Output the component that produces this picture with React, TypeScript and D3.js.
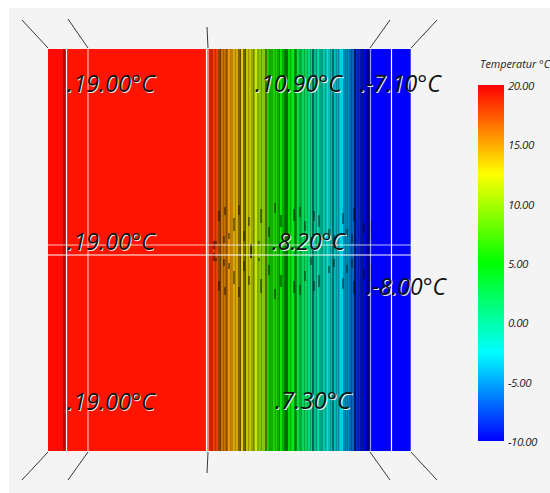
import React from "react";
import * as d3 from "d3";

const W = 550, H = 493;
const bandDepth = [0,15,18,159,162,165,170,173,177,180,183,185,190,193,195,198,203,207,209,211,217,219,222,225,229,232,234,237,240,244,246,249,251,254,259,260,264,266,269,272,275,279,280,284,286,292,295,301,306,308,312,316,319];
const bandTemp = [19.7,19.7,19.4,19.4,18.7,17.7,16.25,15.8,15.6,15.2,14.9,14.1,13.75,13.5,13.2,12.7,11.6,11.5,10.7,9.9,8.75,6.5,5.9,6,5.4,5.3,5,5,4.7,4,3.5,3,2.4,1.9,1,0.5,-1,-0.5,-0.9,-1.1,-1.4,-2,-2.1,-2.5,-2.9,-3.2,-4.5,-6,-8.5,-8.6,-9.1,-10,-10];
const bandShade = [1,0.72,1,1,0.8,0.88,0.55,0.8,0.67,0.92,0.75,0.84,0.47,0.9,0.43,0.78,0.67,0.9,0.67,0.78,0.47,0.78,0.67,0.82,0.67,0.9,0.67,0.43,0.86,0.9,0.59,0.86,0.67,0.84,0.67,0.84,0.4,0.75,0.84,0.63,0.78,0.88,0.75,0.43,0.75,0.9,0.75,0.75,0.4,0.82,0.67,0.9,0.5];
const depthEnd = 363;
const heightEnd = 402;
const bandBlue = [{ from: 322, to: 363, temp: -10 }];

const contourDepth = [167,172,175,178,182,187,192,197,200,205,213,221,227,231,236,242,247,256,262,268,271,277,282,288,290,297,299,303,310,314,318];
const dashDepth = [170,185,212,195,180,175,167,210,265,294,305,280,303,322,165,202,190,220,232,245,256,270,285,298,176,200,226,251,262,315];
const dashNear = [30,20,28,10,12,8,7,7,30,27,30,15,8,12,2,-7,36,14,24,30,20,24,8,14,36,25,38,34,6,18];
const dashFar = [40,33,42,20,18,15,10,10,40,38,43,22,17,30,10,7,46,24,36,42,30,36,16,22,44,34,48,44,14,28];

const whiteLinesV = [18.5,40,158.5,160,322.5,343.5,363];
const whiteOpacityV = [1,0.7,1,0.7,0.6,1,0.5];
const whiteLinesH = [196,206];
const whiteOpacityH = [0.75,1];

const axisTicks = [20,15,10,5,0,-5,-10];
const gradTemps = [20,12.5,5,-2.5,-10];
const gradColors = ["#ff0000","#ffff00","#00ff00","#00ffff","#0000ff"];
const legendTitle = "Temperatur °C";

const labels = [".19.00°C",".10.90°C",".-7.10°C",".19.00°C",".8.20°C",".-8.00°C",".19.00°C",".7.30°C"];
const labelDepth = [19,207,312,19,224,318,19,227];
const labelHeight = [43,43,43,201,201,246,361,360];
const labelLen = [88,87,81,88,73,80,88,76];

const cornerDepth = [0,40,160,322,363];
const cornerOutTop = [-26,-20,-1,20,26];
const cornerTopLen = [29,30,22,29,29];
const cornerBotLen = [29,29,22,29,29];

const color = d3.scaleLinear<string>().domain(gradTemps).range(gradColors).interpolate(d3.interpolateRgb);

export default function App() {
  const x = d3.scaleLinear().domain([0, depthEnd]).range([48, 411]);
  const y = d3.scaleLinear().domain([0, heightEnd]).range([49, 451]);
  const bar = d3.scaleLinear().domain([-10, 20]).range([441, 85]);
  const mid = y(heightEnd / 2) + 0.5;
  const font = "'Open Sans', 'Liberation Sans', sans-serif";
  const shaded = (t: number, s: number) => {
    const c = d3.rgb(color(t));
    return d3.rgb(c.r * s, c.g * s, c.b * s).formatRgb();
  };
  return (
    <svg width={W} height={H} style={{ position: "fixed", left: 0, top: 0, display: "block" }}>
      <defs>
        <linearGradient id="cb" x1="0" x2="0" y1="0" y2="1">
          {gradTemps.map((t, i) => (
            <stop key={t} offset={(bar(t) - bar(20)) / (bar(-10) - bar(20))} stopColor={gradColors[i]} />
          ))}
        </linearGradient>
      </defs>
      <rect x={9} y={8} width={W - 9} height={H - 8} fill="#f4f4f4" />
      <g shapeRendering="crispEdges">
        {bandDepth.map((d, i) => {
          const next = i + 1 < bandDepth.length ? bandDepth[i + 1] : bandBlue[0].from;
          return <rect key={i} x={x(d)} y={y(0)} width={x(next) - x(d)} height={y(heightEnd) - y(0)} fill={shaded(bandTemp[i], bandShade[i])} />;
        })}
        {bandBlue.map((b, i) => (
          <rect key={i} x={x(b.from)} y={y(0)} width={x(b.to) - x(b.from)} height={y(heightEnd) - y(0)} fill={color(b.temp)} />
        ))}
        {contourDepth.map((d) => (
          <rect key={d} x={x(d)} y={y(0)} width={1} height={y(heightEnd) - y(0)} fill="#000" opacity={0.22} />
        ))}
        {dashDepth.map((d, i) =>
          [-1, 1].map((s) => (
            <rect
              key={i + "_" + s}
              x={x(d)}
              y={s > 0 ? mid + dashNear[i] : mid - dashFar[i]}
              width={2}
              height={dashFar[i] - dashNear[i]}
              fill="#000"
              opacity={0.42}
            />
          ))
        )}
      </g>
      {whiteLinesV.map((d, i) => (
        <line key={i} x1={x(d)} x2={x(d)} y1={y(0)} y2={y(heightEnd)} stroke="#fff" strokeOpacity={whiteOpacityV[i]} strokeWidth={1.2} />
      ))}
      {whiteLinesH.map((h, i) => (
        <line key={i} x1={x(0)} x2={x(depthEnd)} y1={y(h)} y2={y(h)} stroke="#fff" strokeOpacity={whiteOpacityH[i]} strokeWidth={1.2} />
      ))}
      {cornerDepth.map((d, i) => {
        const dx = cornerOutTop[i];
        return (
          <g key={d} stroke="#222" strokeWidth={0.9}>
            <line x1={x(d)} y1={y(0) - 1} x2={x(d) + dx} y2={y(0) - cornerTopLen[i]} />
            <line x1={x(d)} y1={y(heightEnd) + 1} x2={x(d) + dx} y2={y(heightEnd) + cornerBotLen[i]} />
          </g>
        );
      })}
      {labels.map((t, i) => (
        <g key={i} fontFamily={font} fontStyle="italic" fontWeight={400} fontSize={23}>
          <text x={x(labelDepth[i]) + 1} y={y(labelHeight[i]) + 1} textLength={labelLen[i]} lengthAdjust="spacingAndGlyphs" fill="#fff" fillOpacity={0.9}>{t}</text>
          <text x={x(labelDepth[i])} y={y(labelHeight[i])} textLength={labelLen[i]} lengthAdjust="spacingAndGlyphs" fill="#111">{t}</text>
        </g>
      ))}
      <rect x={478} y={bar(20)} width={26} height={bar(-10) - bar(20)} fill="url(#cb)" />
      <text x={480} y={68} fontFamily={font} fontStyle="italic" fontSize={10.5} fill="#222" textLength={70} lengthAdjust="spacingAndGlyphs">{legendTitle}</text>
      {axisTicks.map((t) => (
        <text
          key={t}
          x={508}
          y={bar(t) + 5}
          fontFamily={font}
          fontStyle="italic"
          fontSize={11.5}
          letterSpacing={-0.5}
          fill="#222"
        >
          {t.toFixed(2)}
        </text>
      ))}
    </svg>
  );
}
